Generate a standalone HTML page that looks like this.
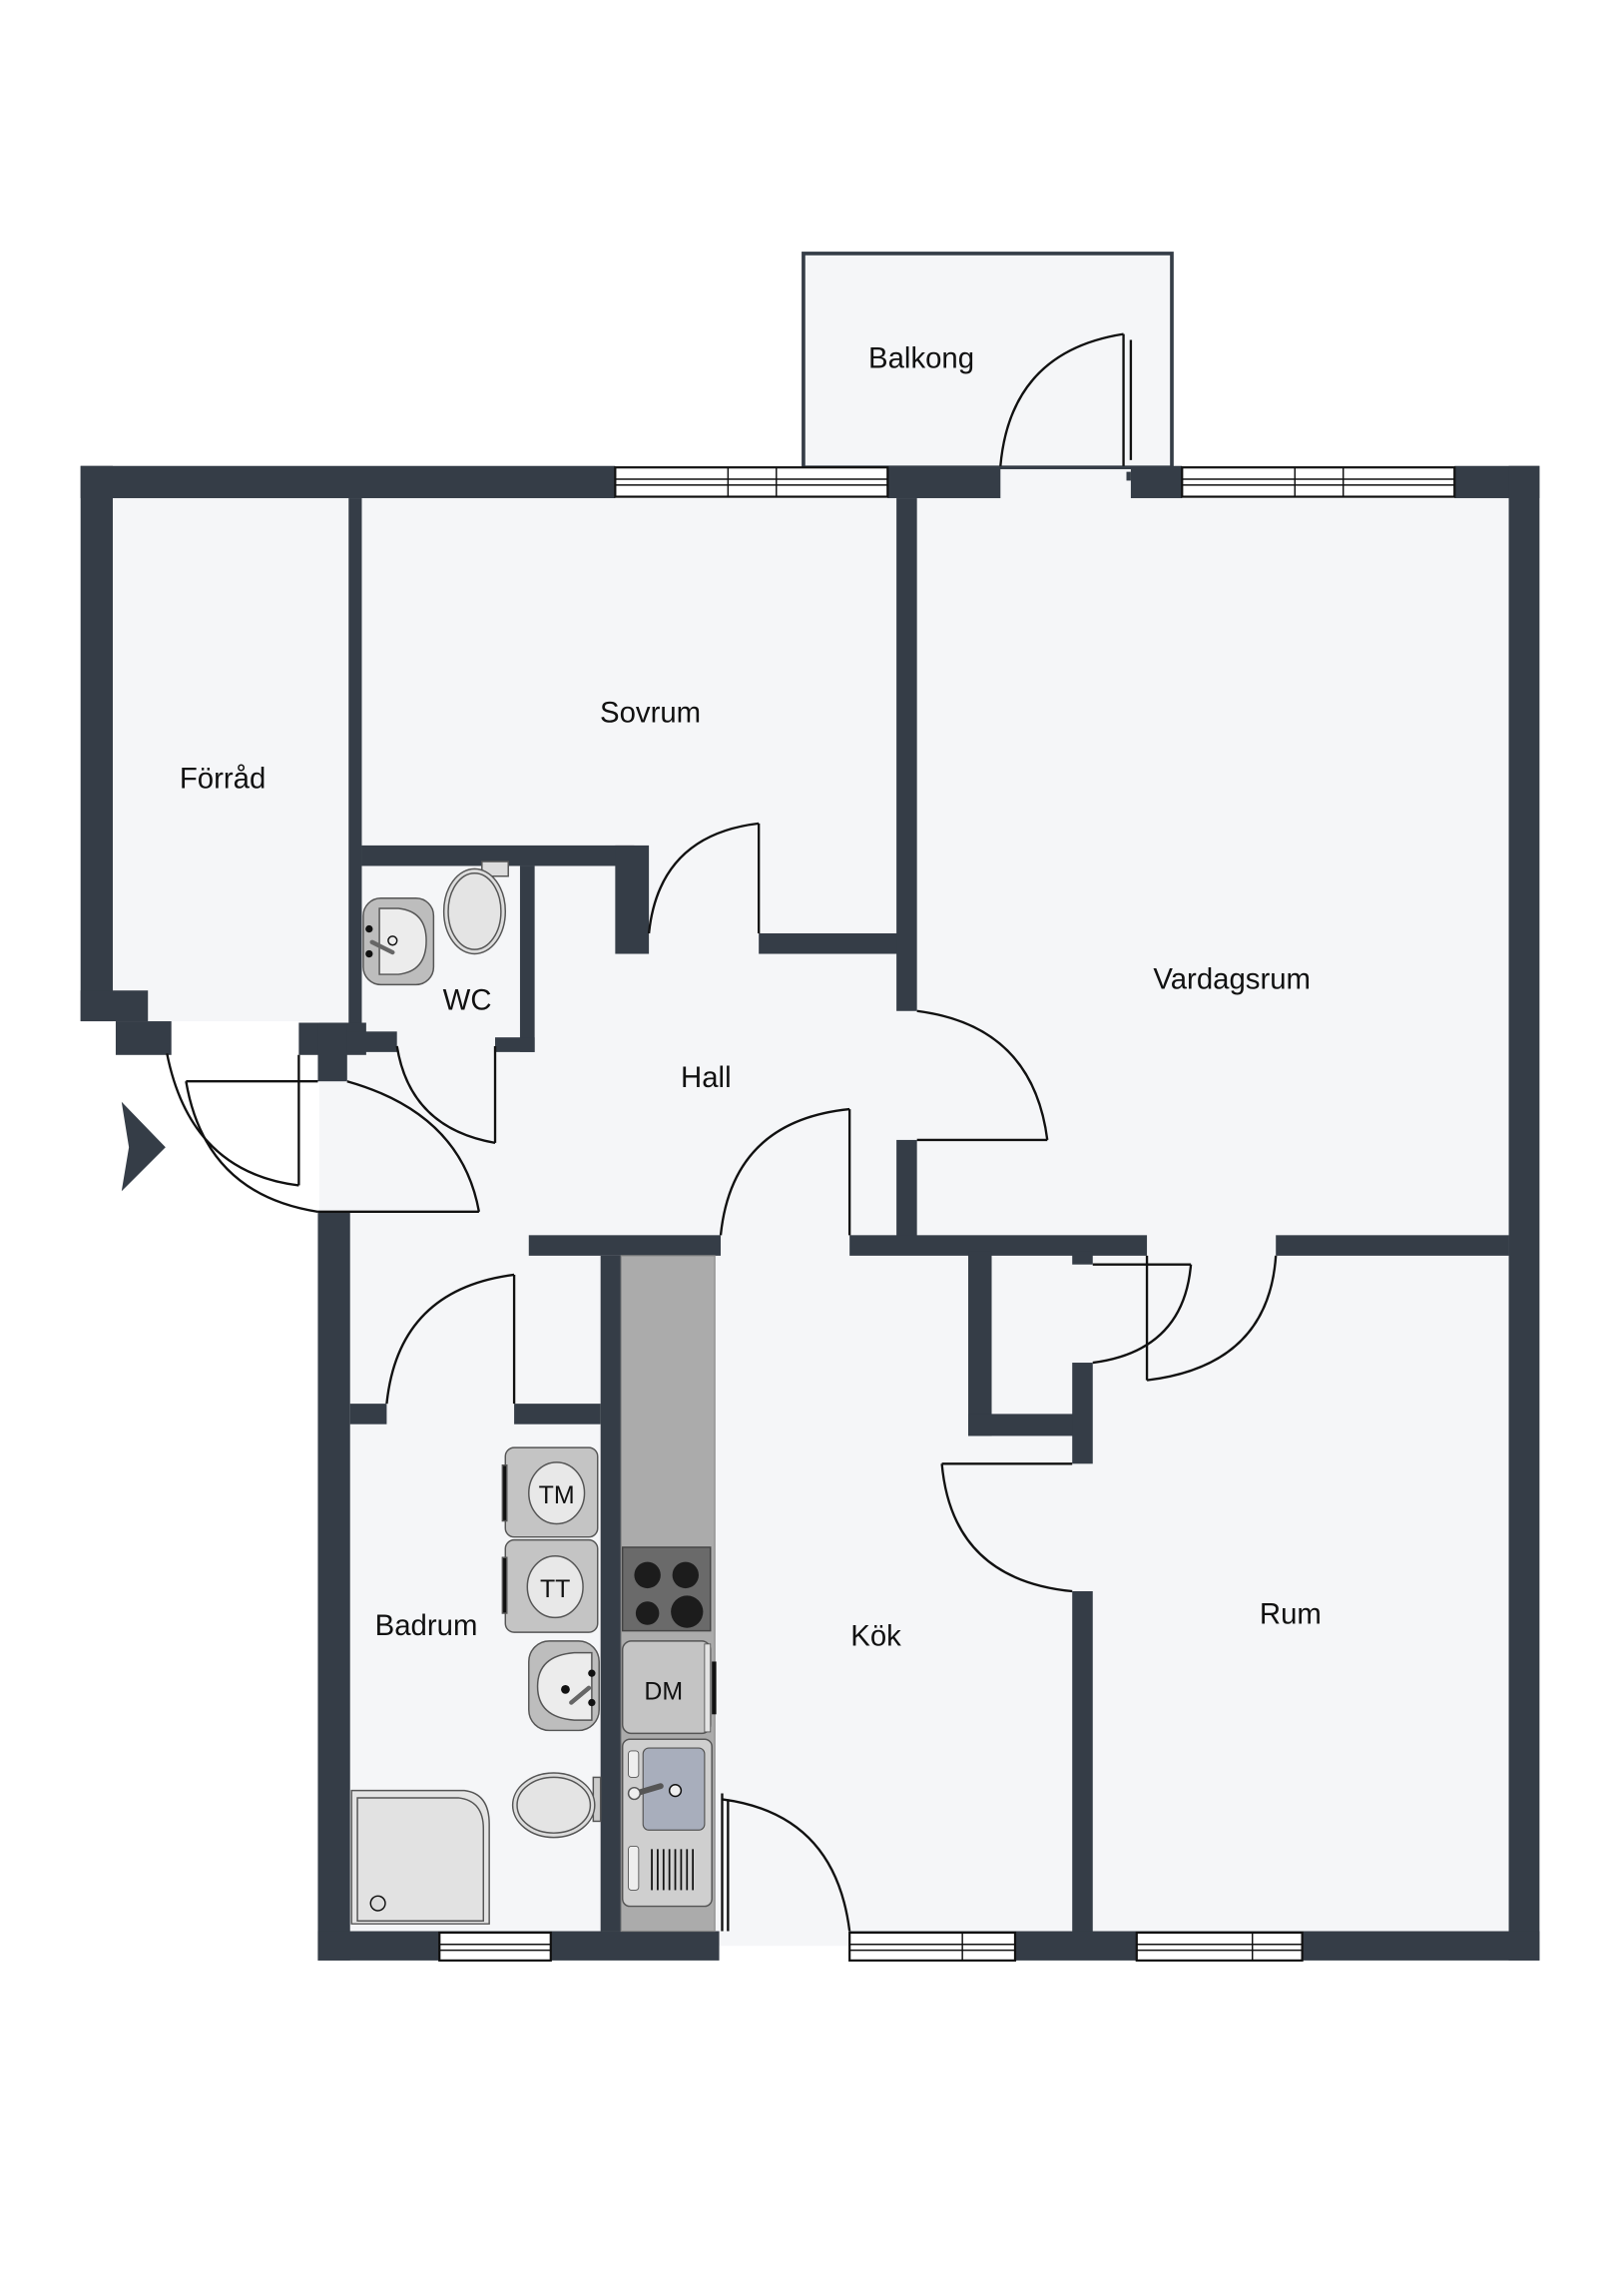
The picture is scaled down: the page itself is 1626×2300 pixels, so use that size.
<!DOCTYPE html>
<html><head><meta charset="utf-8"><style>
html,body{margin:0;padding:0;background:#fff;}
svg{display:block;}
text{font-family:"Liberation Sans",sans-serif;fill:#111;}
</style></head><body>
<svg width="1626" height="2300" viewBox="0 0 1108 1567" preserveAspectRatio="none" xmlns="http://www.w3.org/2000/svg">
<rect width="1108" height="1567" fill="#fff"/>
<g fill="#f5f6f8">
<rect x="548" y="172" width="252" height="148"/>
<rect x="683" y="318" width="89" height="24"/>
<rect x="77" y="340" width="161" height="357"/>
<rect x="218" y="340" width="812" height="978"/>
<rect x="227" y="738" width="10" height="90"/>
<rect x="491" y="1318" width="89" height="10"/>
</g>
<rect x="548.5" y="173" width="251.5" height="146" fill="none" stroke="#353d47" stroke-width="2.5"/>
<g fill="#353d47">
<rect x="55" y="318" width="365" height="22"/>
<rect x="606" y="318" width="77" height="22"/>
<rect x="772" y="318" width="35" height="22"/>
<rect x="993" y="318" width="58" height="22"/>
<rect x="55" y="318" width="22" height="379"/>
<rect x="55" y="676" width="46" height="21"/>
<rect x="79" y="697" width="38" height="23"/>
<rect x="238" y="340" width="9" height="370"/>
<rect x="204" y="698" width="46" height="22"/>
<rect x="217" y="698" width="20" height="40"/>
<rect x="217" y="827" width="22" height="511"/>
<rect x="247" y="577" width="186" height="14"/>
<rect x="420" y="577" width="23" height="74"/>
<rect x="355" y="591" width="10" height="127"/>
<rect x="237" y="704" width="34" height="14"/>
<rect x="338" y="708" width="27" height="10"/>
<rect x="518" y="637" width="100" height="14"/>
<rect x="612" y="340" width="14" height="350"/>
<rect x="612" y="778" width="14" height="70"/>
<rect x="1030" y="318" width="21" height="1020"/>
<rect x="361" y="843" width="131" height="14"/>
<rect x="580" y="843" width="203" height="14"/>
<rect x="871" y="843" width="159" height="14"/>
<rect x="661" y="854" width="16" height="126"/>
<rect x="661" y="965" width="72" height="15"/>
<rect x="732" y="854" width="14" height="9"/>
<rect x="732" y="930" width="14" height="69"/>
<rect x="732" y="1086" width="14" height="240"/>
<rect x="239" y="958" width="25" height="14"/>
<rect x="351" y="958" width="59" height="14"/>
<rect x="410" y="857" width="14" height="461"/>
<rect x="217" y="1318" width="274" height="20"/>
<rect x="580" y="1318" width="471" height="20"/>
<polygon points="83,752 113,783 83,813 88,783"/>
<rect x="769" y="322" width="3" height="6"/>
</g>
<g fill="#fff" stroke="#111" stroke-width="1.5">
<rect x="420" y="319" width="186" height="20"/>
<rect x="807" y="319" width="186" height="20"/>
<rect x="300" y="1319" width="76" height="19"/>
<rect x="580" y="1319" width="113" height="19"/>
<rect x="776" y="1319" width="113" height="19"/>
</g>
<g stroke="#111" stroke-width="1" fill="none">
<line x1="420" y1="327" x2="606" y2="327"/><line x1="420" y1="331" x2="606" y2="331"/>
<line x1="497" y1="319" x2="497" y2="339"/><line x1="530" y1="319" x2="530" y2="339"/>
<line x1="807" y1="327" x2="993" y2="327"/><line x1="807" y1="331" x2="993" y2="331"/>
<line x1="884" y1="319" x2="884" y2="339"/><line x1="917" y1="319" x2="917" y2="339"/>
<line x1="300" y1="1327" x2="376" y2="1327"/><line x1="300" y1="1331" x2="376" y2="1331"/>
<line x1="580" y1="1327" x2="693" y2="1327"/><line x1="580" y1="1331" x2="693" y2="1331"/><line x1="657" y1="1319" x2="657" y2="1338"/>
<line x1="776" y1="1327" x2="889" y2="1327"/><line x1="776" y1="1331" x2="889" y2="1331"/><line x1="855" y1="1319" x2="855" y2="1338"/>
</g>
<g stroke="#111" stroke-width="1.6" fill="none">
<path d="M683,318 Q690,240 767,228"/><line x1="767" y1="228" x2="767" y2="318"/><line x1="772" y1="232" x2="772" y2="314"/>
<path d="M443,637 Q450,570 518,562"/><line x1="518" y1="562" x2="518" y2="637"/>
<path d="M626,690 Q705,700 715,778"/><line x1="626" y1="778" x2="715" y2="778"/>
<path d="M114,719 Q130,800 204,809"/><line x1="204" y1="720" x2="204" y2="809"/>
<path d="M127,738 Q140,815 217,827"/><line x1="127" y1="738" x2="217" y2="738"/>
<path d="M237,738 Q315,760 327,827"/><line x1="217" y1="827" x2="327" y2="827"/>
<path d="M271,714 Q280,770 338,780"/><line x1="338" y1="714" x2="338" y2="780"/>
<path d="M492,843 Q500,765 580,757"/><line x1="580" y1="757" x2="580" y2="843"/>
<path d="M264,958 Q272,880 351,870"/><line x1="351" y1="870" x2="351" y2="958"/>
<path d="M813,863 Q808,922 746,930"/><line x1="746" y1="863" x2="813" y2="863"/>
<path d="M871,857 Q866,932 783,942"/><line x1="783" y1="857" x2="783" y2="942"/>
<path d="M643,999 Q650,1078 732,1086"/><line x1="643" y1="999" x2="732" y2="999"/>
<path d="M493,1228 Q570,1238 580,1318"/><line x1="493" y1="1224" x2="493" y2="1318"/><line x1="497" y1="1228" x2="497" y2="1318"/>
</g>
<rect x="424" y="857" width="64" height="461" fill="#ababab" stroke="#888" stroke-width="0.8"/>
<rect x="425" y="1056" width="60" height="57" fill="#6a6a6a" stroke="#444" stroke-width="1"/>
<g fill="#1c1c1c"><circle cx="442" cy="1075" r="9"/><circle cx="468" cy="1075" r="9"/><circle cx="442" cy="1101" r="8"/><circle cx="469" cy="1100" r="11"/></g>
<rect x="425" y="1120" width="60" height="63" rx="6" fill="#c4c4c4" stroke="#555" stroke-width="1"/>
<rect x="481" y="1122" width="4" height="60" fill="#e4e4e4" stroke="#555" stroke-width="0.6"/>
<rect x="486" y="1134" width="3" height="36" fill="#111"/>
<text x="453" y="1160" font-size="17" text-anchor="middle">DM</text>
<rect x="425" y="1187" width="61" height="114" rx="5" fill="#cfcfcf" stroke="#555" stroke-width="1"/>
<rect x="439" y="1193" width="42" height="56" rx="4" fill="#a8aebc" stroke="#555" stroke-width="0.8"/>
<rect x="429" y="1195" width="7" height="18" rx="2" fill="#eee" stroke="#555" stroke-width="0.6"/>
<rect x="429" y="1260" width="7" height="30" rx="2" fill="#eee" stroke="#555" stroke-width="0.6"/>
<line x1="434" y1="1224" x2="451" y2="1219" stroke="#555" stroke-width="4" stroke-linecap="round"/>
<circle cx="433" cy="1224" r="4" fill="#eee" stroke="#555"/>
<circle cx="461" cy="1222" r="4" fill="#eee" stroke="#111"/>
<g stroke="#111" stroke-width="1.2"><line x1="445" y1="1262" x2="445" y2="1290"/><line x1="449" y1="1262" x2="449" y2="1290"/><line x1="453" y1="1262" x2="453" y2="1290"/><line x1="457" y1="1262" x2="457" y2="1290"/><line x1="461" y1="1262" x2="461" y2="1290"/><line x1="465" y1="1262" x2="465" y2="1290"/><line x1="469" y1="1262" x2="469" y2="1290"/><line x1="473" y1="1262" x2="473" y2="1290"/></g>
<g stroke="#555" stroke-width="1">
<rect x="345" y="988" width="63" height="61" rx="6" fill="#c4c4c4"/>
<rect x="343" y="1000" width="3" height="38" fill="#111"/>
<ellipse cx="380" cy="1019" rx="19" ry="21" fill="#e8e8e8"/>
<rect x="345" y="1051" width="63" height="63" rx="6" fill="#c4c4c4"/>
<rect x="343" y="1063" width="3" height="38" fill="#111"/>
<ellipse cx="379" cy="1083" rx="19" ry="21" fill="#e8e8e8"/>
<rect x="361" y="1120" width="48" height="61" rx="14" fill="#bdbdbd"/>
<path d="M404,1128 L392,1128 Q367,1130 367,1151 Q367,1172 392,1174 L404,1174 Z" fill="#ececec"/>
<rect x="405" y="1213" width="5" height="30" fill="#ccc"/>
<ellipse cx="378" cy="1232" rx="28" ry="22" fill="#ddd"/>
<ellipse cx="378" cy="1232" rx="25" ry="19" fill="#e4e4e4"/>
<path d="M240,1222 L317,1222 Q334,1224 334,1245 L334,1313 L240,1313 Z" fill="#e4e4e4"/>
<path d="M244,1227 L313,1227 Q330,1229 330,1248 L330,1311 L244,1311 Z" fill="#e2e2e2"/>
<circle cx="258" cy="1299" r="5" fill="#ddd" stroke="#111"/>
<rect x="248" y="613" width="48" height="59" rx="12" fill="#bdbdbd"/>
<path d="M259,620 L272,620 Q291,622 291,642 Q291,663 272,665 L259,665 Z" fill="#ececec"/>
<rect x="329" y="588" width="18" height="10" fill="#ddd"/>
<ellipse cx="324" cy="622" rx="21" ry="29" fill="#ddd"/>
<ellipse cx="324" cy="622" rx="18" ry="26" fill="#e4e4e4"/>
<circle cx="268" cy="642" r="3" fill="#eee" stroke="#111"/>
</g>
<g fill="#111"><circle cx="252" cy="634" r="2.5"/><circle cx="252" cy="651" r="2.5"/><circle cx="404" cy="1142" r="2.5"/><circle cx="404" cy="1162" r="2.5"/><circle cx="386" cy="1153" r="3"/></g>
<line x1="254" y1="643" x2="268" y2="650" stroke="#666" stroke-width="3" stroke-linecap="round"/>
<line x1="402" y1="1152" x2="390" y2="1162" stroke="#666" stroke-width="3" stroke-linecap="round"/>
<text x="380" y="1026" font-size="17" text-anchor="middle">TM</text>
<text x="379" y="1090" font-size="17" text-anchor="middle">TT</text>
<g font-size="20" text-anchor="middle">
<text x="629" y="251">Balkong</text>
<text x="444" y="493">Sovrum</text>
<text x="152" y="538">Förråd</text>
<text x="319" y="689">WC</text>
<text x="841" y="675">Vardagsrum</text>
<text x="482" y="742">Hall</text>
<text x="291" y="1116">Badrum</text>
<text x="598" y="1123">Kök</text>
<text x="881" y="1108">Rum</text>
</g>
</svg>
</body></html>
